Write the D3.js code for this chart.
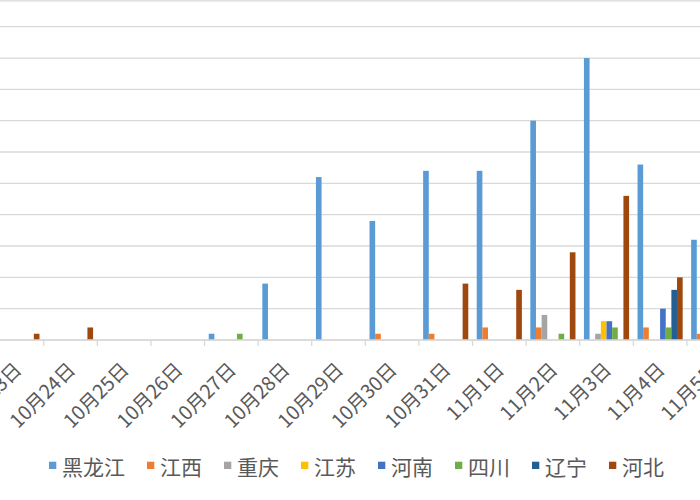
<!DOCTYPE html>
<html>
<head>
<meta charset="utf-8">
<script src="https://cdn.jsdelivr.net/npm/d3@7/dist/d3.min.js"></script>
<style>
  body { margin: 0; background: #fff; }
  svg { display: block; }
</style>
</head>
<body>
<script>
var w = 700;
var h = 500;

var dates = ["10月23日", "10月24日", "10月25日", "10月26日", "10月27日", "10月28日", "10月29日",
             "10月30日", "10月31日", "11月1日", "11月2日", "11月3日", "11月4日", "11月5日"];
var provinces = ["黑龙江", "江西", "重庆", "江苏", "河南", "四川", "辽宁", "河北"];
var colors = ["#5B9BD5", "#ED7D31", "#A5A5A5", "#FFC000", "#4472C4", "#70AD47", "#255E91", "#9E480E"];

// one array per province, one value per date
var heilongjiang = [0, 0, 0, 0, 1, 9, 26, 19, 27, 27, 35, 45, 28, 16];
var jiangxi      = [0, 0, 0, 0, 0, 0, 0, 1, 1, 2, 2, 0, 2, 1];
var chongqing    = [0, 0, 0, 0, 0, 0, 0, 0, 0, 0, 4, 1, 0, 0];
var jiangsu      = [0, 0, 0, 0, 0, 0, 0, 0, 0, 0, 0, 3, 0, 0];
var henan        = [0, 0, 0, 0, 0, 0, 0, 0, 0, 0, 0, 3, 5, 0];
var sichuan      = [0, 0, 0, 0, 1, 0, 0, 0, 0, 0, 1, 2, 2, 0];
var liaoning     = [0, 0, 0, 0, 0, 0, 0, 0, 0, 0, 0, 0, 8, 0];
var hebei        = [1, 2, 0, 0, 0, 0, 0, 0, 9, 8, 14, 23, 10, 0];

var yTicks = [0, 5, 10, 15, 20, 25, 30, 35, 40, 45, 50];

var seriesValues = [heilongjiang, jiangxi, chongqing, jiangsu, henan, sichuan, liaoning, hebei];

var baseY = 340;
var step = 53.6;
var startX = 43.7 - step;

var xRange = d3.scaleBand()
    .domain(dates)
    .range([startX, startX + step * dates.length])
    .paddingInner(0)
    .paddingOuter(0);

var xInner = d3.scaleBand()
    .domain(provinces)
    .range([0, xRange.bandwidth()])
    .paddingInner(0)
    .paddingOuter(0.75);

var yRange = d3.scaleLinear()
    .domain([0, 50])
    .range([baseY, 26.7]);

var svg = d3.select("body")
    .append("svg")
    .attr("width", w)
    .attr("height", h);

// gridlines
svg.append("g")
   .selectAll("line")
   .data(yTicks)
   .enter()
   .append("line")
   .attr("x1", 0)
   .attr("x2", w)
   .attr("y1", function(d) { return yRange(d); })
   .attr("y2", function(d) { return yRange(d); })
   .attr("stroke", "#d9d9d9")
   .attr("stroke-width", 1.3);

// top edge of the plot area
svg.append("line")
   .attr("x1", 0).attr("x2", w)
   .attr("y1", 0.8).attr("y2", 0.8)
   .attr("stroke", "#d9d9d9")
   .attr("stroke-width", 1.3);

// bars, grouped by date
var groups = svg.append("g")
   .selectAll("g")
   .data(dates)
   .enter()
   .append("g")
   .attr("transform", function(d) { return "translate(" + xRange(d) + ",0)"; });

groups.selectAll("rect")
   .data(function(d, i) {
      return provinces.map(function(p, j) {
         return {name: p, value: seriesValues[j][i], color: colors[j]};
      });
   })
   .enter()
   .append("rect")
   .attr("x", function(d) { return xInner(d.name); })
   .attr("y", function(d) { return yRange(d.value); })
   .attr("width", xInner.bandwidth())
   .attr("height", function(d) { return baseY - yRange(d.value); })
   .attr("fill", function(d) { return d.color; });

// x axis: baseline, tick marks between categories, rotated labels
var xAxis = d3.axisBottom(xRange).tickSize(0).tickPadding(0);
var gx = svg.append("g")
   .attr("transform", "translate(0," + baseY + ")")
   .call(xAxis);
gx.select(".domain").remove();
gx.selectAll("text")
   .attr("font-family", "'Noto Sans CJK SC', sans-serif")
   .attr("font-size", "19.5px")
   .attr("fill", "#595959")
   .attr("text-anchor", "end")
   .attr("dy", null)
   .attr("y", null)
   .attr("transform", "translate(6,31) rotate(-45)");
gx.selectAll(".tick line").remove();

svg.append("line")
   .attr("x1", 0).attr("x2", w)
   .attr("y1", baseY).attr("y2", baseY)
   .attr("stroke", "#d9d9d9")
   .attr("stroke-width", 1.3);

svg.append("g")
   .selectAll("line")
   .data(dates.slice(1))
   .enter()
   .append("line")
   .attr("x1", function(d) { return xRange(d); })
   .attr("x2", function(d) { return xRange(d); })
   .attr("y1", baseY)
   .attr("y2", baseY + 6)
   .attr("stroke", "#d9d9d9")
   .attr("stroke-width", 1.3);

// legend
var legend = svg.append("g")
   .attr("font-family", "'Noto Sans CJK SC', sans-serif")
   .attr("font-size", "21px")
   .attr("fill", "#595959");

var lx = 49;
provinces.forEach(function(p, j) {
   legend.append("rect")
      .attr("x", lx)
      .attr("y", 461.7)
      .attr("width", 7.3)
      .attr("height", 7.3)
      .attr("fill", colors[j]);
   var t = legend.append("text")
      .attr("x", lx + 13)
      .attr("y", 466)
      .attr("dominant-baseline", "central")
      .text(p);
   lx = lx + 13 + t.node().getComputedTextLength() + 22;
});
</script>
</body>
</html>
